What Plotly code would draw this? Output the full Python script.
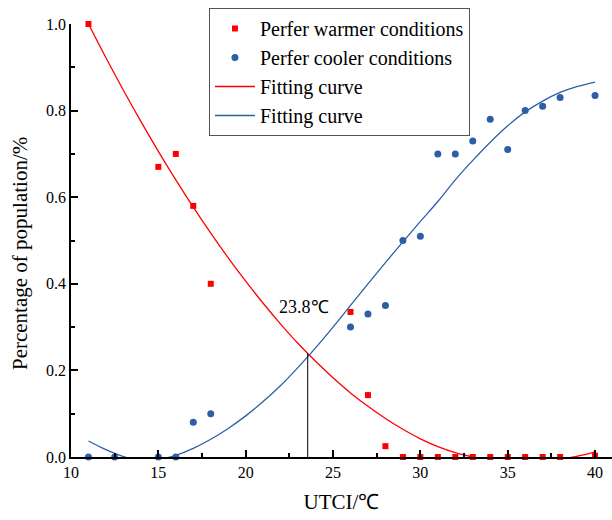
import plotly.graph_objects as go

# ---- data ----
warm_x = [11, 15, 16, 17, 18, 26, 27, 28, 29, 30, 31, 32, 33, 34, 35, 36, 37, 38, 40]
warm_y = [1.0, 0.67, 0.70, 0.58, 0.40, 0.335, 0.143, 0.025, 0.0, 0.0, 0.0, 0.0, 0.0, 0.0, 0.0, 0.0, 0.0, 0.0, 0.003]

cool_x = [11, 12.5, 15, 16, 17, 18, 26, 27, 28, 29, 30, 31, 32, 33, 34, 35, 36, 37, 38, 40]
cool_y = [0.0, 0.0, 0.0, 0.0, 0.08, 0.10, 0.30, 0.33, 0.35, 0.50, 0.51, 0.70, 0.70, 0.73, 0.78, 0.71, 0.80, 0.81, 0.83, 0.835]

fit_x = [11, 12, 13, 14, 15, 16, 17, 18, 19, 20, 21, 22, 23, 24, 25, 26, 27, 28, 29, 30,
         31, 32, 33, 34, 35, 36, 37, 38, 39, 40]
warm_fit = [1.0, 0.922, 0.847, 0.775, 0.706, 0.640, 0.577, 0.517, 0.460, 0.406, 0.355, 0.307,
            0.262, 0.221, 0.183, 0.148, 0.117, 0.089, 0.064, 0.042, 0.024, 0.010, 0.0, -0.008,
            -0.013, -0.014, -0.011, -0.005, 0.002, 0.012]
cool_fit = [0.037, 0.017, 0.001, -0.008, -0.006, 0.004, 0.020, 0.041, 0.066, 0.095, 0.128,
            0.165, 0.207, 0.252, 0.300, 0.350, 0.400, 0.449, 0.497, 0.544, 0.590, 0.640, 0.685,
            0.727, 0.765, 0.797, 0.822, 0.842, 0.856, 0.866]

intersect_x = 23.55
intersect_y = 0.239
intersect_label = "23.8℃"

x_ticks = [10, 15, 20, 25, 30, 35, 40]
y_ticks = [0.0, 0.2, 0.4, 0.6, 0.8, 1.0]

RED = "#FF0000"
BLUE = "#2E5FA6"
FONT = "Liberation Serif, Times New Roman, serif"

fig = go.Figure()
fig.add_trace(go.Scatter(x=warm_x, y=warm_y, mode="markers", name="Perfer warmer conditions",
                         marker=dict(symbol="square", size=6, color=RED), cliponaxis=False))
fig.add_trace(go.Scatter(x=cool_x, y=cool_y, mode="markers", name="Perfer cooler conditions",
                         marker=dict(symbol="circle", size=7, color=BLUE), cliponaxis=False))
fig.add_trace(go.Scatter(x=fit_x, y=warm_fit, mode="lines", name="Fitting curve",
                         line=dict(color=RED, width=1.3, shape="spline")))
fig.add_trace(go.Scatter(x=fit_x, y=cool_fit, mode="lines", name="Fitting curve",
                         line=dict(color=BLUE, width=1.3, shape="spline")))

fig.add_shape(type="line", x0=intersect_x, x1=intersect_x, y0=0, y1=intersect_y,
              xref="x", yref="y", line=dict(color="black", width=1))
fig.add_annotation(x=intersect_x - 0.2, y=0.347, text=intersect_label, showarrow=False,
                   font=dict(family=FONT, size=18, color="black"))

# y-axis title placed as in the reference
fig.add_annotation(xref="paper", yref="paper", x=-0.0933, y=0.47, text="Percentage of population/%",
                   showarrow=False, textangle=-90, xanchor="center", yanchor="middle",
                   font=dict(family=FONT, size=21, color="black"))

fig.update_layout(
    width=612, height=520,
    margin=dict(l=71, r=0, t=24, b=63),
    paper_bgcolor="white", plot_bgcolor="white",
    font=dict(family=FONT, size=16, color="black"),
    showlegend=True,
    legend=dict(x=0.255, y=1.037, xanchor="left", yanchor="top",
                bgcolor="white", bordercolor="#555555", borderwidth=1,
                font=dict(family=FONT, size=20), itemwidth=40, tracegroupgap=0),
)
fig.update_xaxes(range=[10, 40.97], tickvals=x_ticks, ticks="inside", ticklen=7, tickwidth=1.5,
                 tickcolor="black", showline=True, linecolor="black", linewidth=1.5,
                 showgrid=False, zeroline=False,
                 minor=dict(dtick=2.5, tick0=10, ticks="inside", ticklen=4, tickwidth=1.5, tickcolor="black"),
                 title=dict(text="UTCI/℃", font=dict(family=FONT, size=21), standoff=14),
                 tickfont=dict(family=FONT, size=16))
fig.update_yaxes(range=[0, 1.0], tickvals=y_ticks, tickformat=".1f", ticks="inside", ticklen=7,
                 tickwidth=1.5, tickcolor="black", showline=True, linecolor="black", linewidth=1.5,
                 showgrid=False, zeroline=False,
                 minor=dict(dtick=0.1, tick0=0, ticks="inside", ticklen=4, tickwidth=1.5, tickcolor="black"),
                 tickfont=dict(family=FONT, size=16))

fig.write_html("out.html")
